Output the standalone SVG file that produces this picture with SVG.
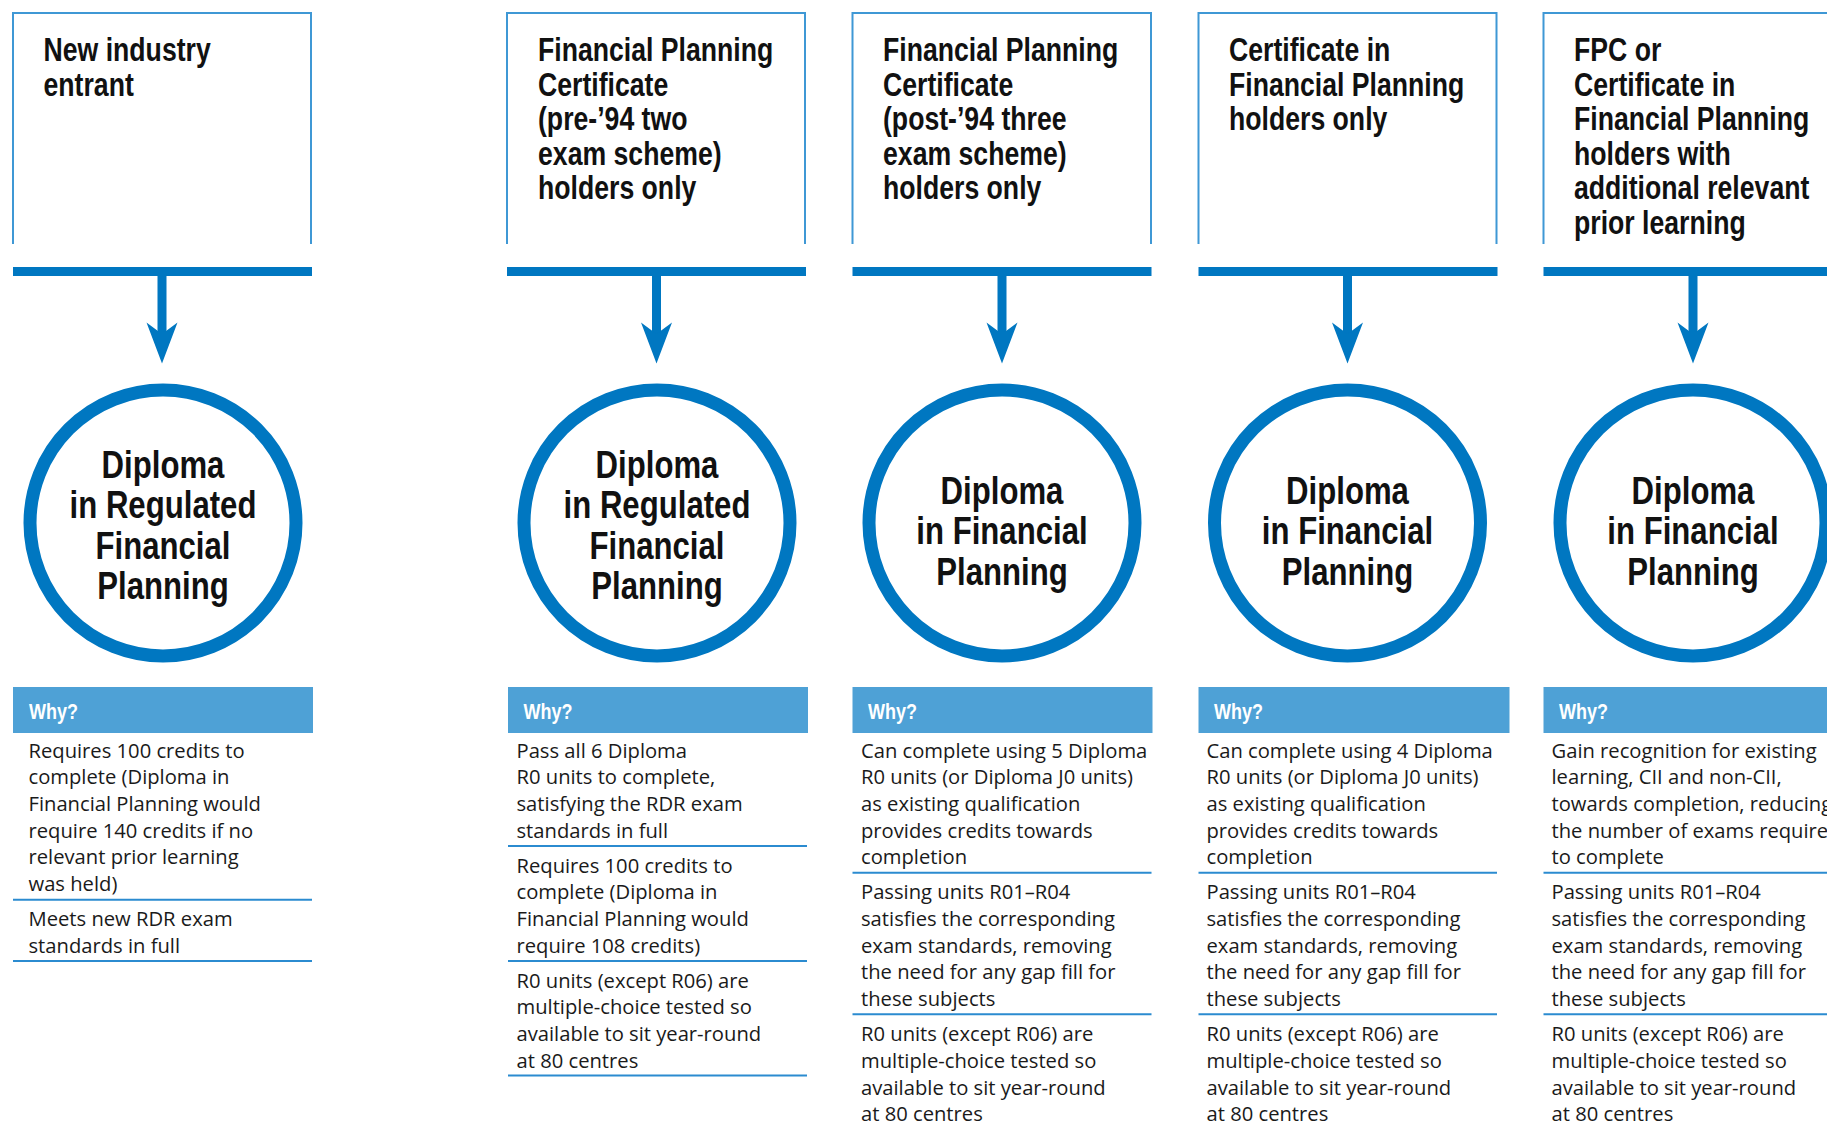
<svg xmlns="http://www.w3.org/2000/svg" width="1827" height="1122" viewBox="0 0 1827 1122">
<style>
.box{fill:none;stroke:#3f98d5;stroke-width:2}
.bar{fill:#0077c1}
.ring{fill:#ffffff;stroke:#0077c1;stroke-width:13}
.whybg{fill:#4ea1d6}
.div{stroke:#2b8bd0;stroke-width:2}
.hd{font-family:"Liberation Sans",Arial,sans-serif;font-weight:bold;font-size:32.5px;fill:#111111}
.ct{font-family:"Liberation Sans",Arial,sans-serif;font-weight:bold;font-size:38px;fill:#111111;text-anchor:middle}
.why{font-family:"Liberation Sans",Arial,sans-serif;font-weight:bold;font-size:22px;fill:#ffffff}
.bd{font-family:"Open Sans","Noto Sans",sans-serif;font-size:20.2px;fill:#1a1a1a}
</style>
<defs>
<g id="arrow">
<rect x="-4.5" y="275" width="9" height="60" fill="#0077c1"/>
<polygon points="-15.5,322.5 0,334 15.5,322.5 0,363.5" fill="#0077c1"/>
</g>
</defs>
<rect width="1827" height="1122" fill="#ffffff"/>

<g id="connectors">
<use href="#arrow" transform="translate(162,0)"/>
<use href="#arrow" transform="translate(656.5,0)"/>
<use href="#arrow" transform="translate(1002,0)"/>
<use href="#arrow" transform="translate(1347.5,0)"/>
<use href="#arrow" transform="translate(1693,0)"/>
</g>

<!-- Column 1 -->
<g id="source-1">
<path class="box" d="M13,244 V13 H311 V244"/>
<rect class="bar" x="13" y="267" width="299" height="9"/>
<text class="hd" transform="translate(43.5,0) scale(0.82,1)"><tspan x="0" y="61">New industry</tspan><tspan x="0" y="96">entrant</tspan></text>
</g>
<g id="diploma-1">
<circle class="ring" cx="163" cy="523" r="133"/>
<text class="ct" transform="translate(163,0) scale(0.82,1)"><tspan x="0" y="478">Diploma</tspan><tspan x="0" y="518.5">in Regulated</tspan><tspan x="0" y="559">Financial</tspan><tspan x="0" y="599.5">Planning</tspan></text>
</g>
<g id="why-1">
<rect class="whybg" x="13" y="687" width="300" height="46"/>
<text class="why" transform="translate(29,0) scale(0.82,1)" x="0" y="719">Why?</text>
<text class="bd"><tspan x="28.5" y="757.5">Requires 100 credits to</tspan><tspan x="28.5" y="784.2">complete (Diploma in</tspan><tspan x="28.5" y="810.9">Financial Planning would</tspan><tspan x="28.5" y="837.6">require 140 credits if no</tspan><tspan x="28.5" y="864.3">relevant prior learning</tspan><tspan x="28.5" y="891">was held)</tspan><tspan x="28.5" y="926">Meets new RDR exam</tspan><tspan x="28.5" y="952.7">standards in full</tspan></text>
<line class="div" x1="13" y1="899.7" x2="312" y2="899.7"/>
<line class="div" x1="13" y1="961" x2="312" y2="961"/>
</g>

<!-- Column 2 -->
<g id="source-2">
<path class="box" d="M507,244 V13 H805 V244"/>
<rect class="bar" x="507" y="267" width="299" height="9"/>
<text class="hd" transform="translate(538,0) scale(0.82,1)"><tspan x="0" y="61">Financial Planning</tspan><tspan x="0" y="96">Certificate</tspan><tspan x="0" y="130.5">(pre-’94 two</tspan><tspan x="0" y="165">exam scheme)</tspan><tspan x="0" y="199.5">holders only</tspan></text>
</g>
<g id="diploma-2">
<circle class="ring" cx="657" cy="523" r="133"/>
<text class="ct" transform="translate(657,0) scale(0.82,1)"><tspan x="0" y="478">Diploma</tspan><tspan x="0" y="518.5">in Regulated</tspan><tspan x="0" y="559">Financial</tspan><tspan x="0" y="599.5">Planning</tspan></text>
</g>
<g id="why-2">
<rect class="whybg" x="508" y="687" width="300" height="46"/>
<text class="why" transform="translate(523.5,0) scale(0.82,1)" x="0" y="719">Why?</text>
<text class="bd"><tspan x="516.5" y="757.5">Pass all 6 Diploma</tspan><tspan x="516.5" y="784.2">R0 units to complete,</tspan><tspan x="516.5" y="810.9">satisfying the RDR exam</tspan><tspan x="516.5" y="837.6">standards in full</tspan><tspan x="516.5" y="872.6">Requires 100 credits to</tspan><tspan x="516.5" y="899.3">complete (Diploma in</tspan><tspan x="516.5" y="926">Financial Planning would</tspan><tspan x="516.5" y="952.7">require 108 credits)</tspan><tspan x="516.5" y="987.7">R0 units (except R06) are</tspan><tspan x="516.5" y="1014.4">multiple-choice tested so</tspan><tspan x="516.5" y="1041.1">available to sit year-round</tspan><tspan x="516.5" y="1067.8">at 80 centres</tspan></text>
<line class="div" x1="508" y1="846" x2="807" y2="846"/>
<line class="div" x1="508" y1="961" x2="807" y2="961"/>
<line class="div" x1="508" y1="1075.5" x2="807" y2="1075.5"/>
</g>

<!-- Column 3 -->
<g id="source-3">
<path class="box" d="M852.5,244 V13 H1151 V244"/>
<rect class="bar" x="852.5" y="267" width="299" height="9"/>
<text class="hd" transform="translate(883,0) scale(0.82,1)"><tspan x="0" y="61">Financial Planning</tspan><tspan x="0" y="96">Certificate</tspan><tspan x="0" y="130.5">(post-’94 three</tspan><tspan x="0" y="165">exam scheme)</tspan><tspan x="0" y="199.5">holders only</tspan></text>
</g>
<g id="diploma-3">
<circle class="ring" cx="1002" cy="523" r="133"/>
<text class="ct" transform="translate(1002,0) scale(0.82,1)"><tspan x="0" y="504">Diploma</tspan><tspan x="0" y="544.5">in Financial</tspan><tspan x="0" y="585">Planning</tspan></text>
</g>
<g id="why-3">
<rect class="whybg" x="852.5" y="687" width="300" height="46"/>
<text class="why" transform="translate(868,0) scale(0.82,1)" x="0" y="719">Why?</text>
<text class="bd"><tspan x="861" y="757.5">Can complete using 5 Diploma</tspan><tspan x="861" y="784.2">R0 units (or Diploma J0 units)</tspan><tspan x="861" y="810.9">as existing qualification</tspan><tspan x="861" y="837.6">provides credits towards</tspan><tspan x="861" y="864.3">completion</tspan><tspan x="861" y="899.3">Passing units R01–R04</tspan><tspan x="861" y="926">satisfies the corresponding</tspan><tspan x="861" y="952.7">exam standards, removing</tspan><tspan x="861" y="979.4">the need for any gap fill for</tspan><tspan x="861" y="1006.1">these subjects</tspan><tspan x="861" y="1041.1">R0 units (except R06) are</tspan><tspan x="861" y="1067.8">multiple-choice tested so</tspan><tspan x="861" y="1094.5">available to sit year-round</tspan><tspan x="861" y="1121.2">at 80 centres</tspan></text>
<line class="div" x1="852.5" y1="872.8" x2="1151.5" y2="872.8"/>
<line class="div" x1="852.5" y1="1014.3" x2="1151.5" y2="1014.3"/>
</g>

<!-- Column 4 -->
<g id="source-4">
<path class="box" d="M1198.5,244 V13 H1496.5 V244"/>
<rect class="bar" x="1198.5" y="267" width="299" height="9"/>
<text class="hd" transform="translate(1229,0) scale(0.82,1)"><tspan x="0" y="61">Certificate in</tspan><tspan x="0" y="96">Financial Planning</tspan><tspan x="0" y="130.5">holders only</tspan></text>
</g>
<g id="diploma-4">
<circle class="ring" cx="1347.5" cy="523" r="133"/>
<text class="ct" transform="translate(1347.5,0) scale(0.82,1)"><tspan x="0" y="504">Diploma</tspan><tspan x="0" y="544.5">in Financial</tspan><tspan x="0" y="585">Planning</tspan></text>
</g>
<g id="why-4">
<rect class="whybg" x="1198.5" y="687" width="311" height="46"/>
<text class="why" transform="translate(1214,0) scale(0.82,1)" x="0" y="719">Why?</text>
<text class="bd"><tspan x="1206.5" y="757.5">Can complete using 4 Diploma</tspan><tspan x="1206.5" y="784.2">R0 units (or Diploma J0 units)</tspan><tspan x="1206.5" y="810.9">as existing qualification</tspan><tspan x="1206.5" y="837.6">provides credits towards</tspan><tspan x="1206.5" y="864.3">completion</tspan><tspan x="1206.5" y="899.3">Passing units R01–R04</tspan><tspan x="1206.5" y="926">satisfies the corresponding</tspan><tspan x="1206.5" y="952.7">exam standards, removing</tspan><tspan x="1206.5" y="979.4">the need for any gap fill for</tspan><tspan x="1206.5" y="1006.1">these subjects</tspan><tspan x="1206.5" y="1041.1">R0 units (except R06) are</tspan><tspan x="1206.5" y="1067.8">multiple-choice tested so</tspan><tspan x="1206.5" y="1094.5">available to sit year-round</tspan><tspan x="1206.5" y="1121.2">at 80 centres</tspan></text>
<line class="div" x1="1198.5" y1="872.8" x2="1497" y2="872.8"/>
<line class="div" x1="1198.5" y1="1014.3" x2="1497" y2="1014.3"/>
</g>

<!-- Column 5 -->
<g id="source-5">
<path class="box" d="M1543.5,244 V13 H1830"/>
<rect class="bar" x="1543.5" y="267" width="290" height="9"/>
<text class="hd" transform="translate(1574,0) scale(0.82,1)"><tspan x="0" y="61">FPC or</tspan><tspan x="0" y="96">Certificate in</tspan><tspan x="0" y="130.5">Financial Planning</tspan><tspan x="0" y="165">holders with</tspan><tspan x="0" y="199.5">additional relevant</tspan><tspan x="0" y="234">prior learning</tspan></text>
</g>
<g id="diploma-5">
<circle class="ring" cx="1693" cy="523" r="133"/>
<text class="ct" transform="translate(1693,0) scale(0.82,1)"><tspan x="0" y="504">Diploma</tspan><tspan x="0" y="544.5">in Financial</tspan><tspan x="0" y="585">Planning</tspan></text>
</g>
<g id="why-5">
<rect class="whybg" x="1543.5" y="687" width="290" height="46"/>
<text class="why" transform="translate(1559,0) scale(0.82,1)" x="0" y="719">Why?</text>
<text class="bd"><tspan x="1551.5" y="757.5">Gain recognition for existing</tspan><tspan x="1551.5" y="784.2">learning, CII and non-CII,</tspan><tspan x="1551.5" y="810.9">towards completion, reducing</tspan><tspan x="1551.5" y="837.6">the number of exams required</tspan><tspan x="1551.5" y="864.3">to complete</tspan><tspan x="1551.5" y="899.3">Passing units R01–R04</tspan><tspan x="1551.5" y="926">satisfies the corresponding</tspan><tspan x="1551.5" y="952.7">exam standards, removing</tspan><tspan x="1551.5" y="979.4">the need for any gap fill for</tspan><tspan x="1551.5" y="1006.1">these subjects</tspan><tspan x="1551.5" y="1041.1">R0 units (except R06) are</tspan><tspan x="1551.5" y="1067.8">multiple-choice tested so</tspan><tspan x="1551.5" y="1094.5">available to sit year-round</tspan><tspan x="1551.5" y="1121.2">at 80 centres</tspan></text>
<line class="div" x1="1543.5" y1="872.8" x2="1830" y2="872.8"/>
<line class="div" x1="1543.5" y1="1014.3" x2="1830" y2="1014.3"/>
</g>
</svg>
